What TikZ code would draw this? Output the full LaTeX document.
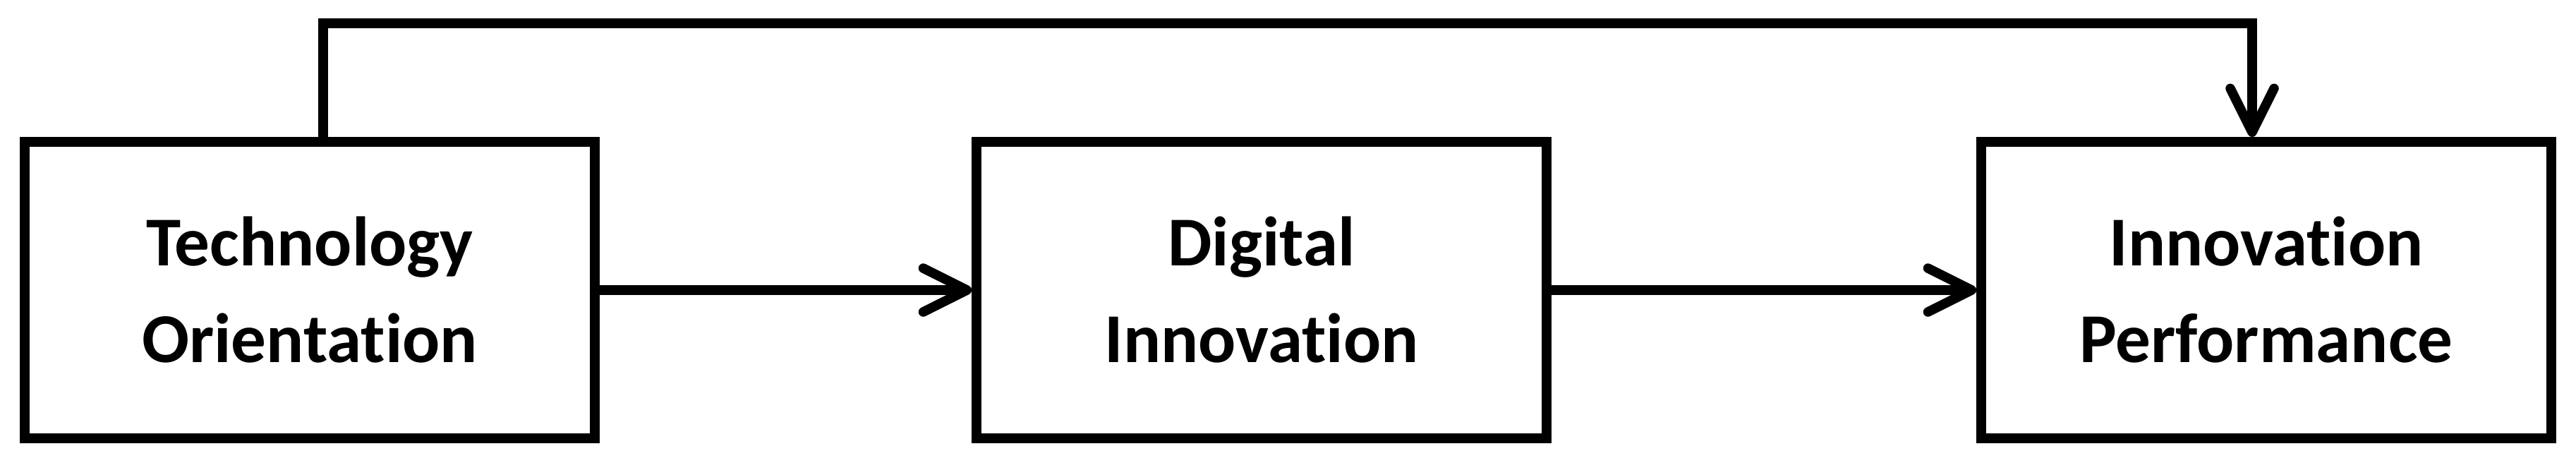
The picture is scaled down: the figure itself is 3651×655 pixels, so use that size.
\documentclass[tikz,border=0pt]{standalone}
\usepackage{fontspec}
\setmainfont{Carlito}[Ligatures={NoCommon}]
\usetikzlibrary{arrows.meta}
\tikzset{
  px/.style={x=0.25pt,y=-0.25pt},
  varbox/.style={draw=black, line width=3.375pt, rectangle, minimum width=202pt, minimum height=105.1pt,
    inner sep=0pt, align=center, font=\fontsize{24.8pt}{34.25pt}\selectfont\bfseries},
  link/.style={draw=black, line width=3.375pt, line join=miter,
    -{Straight Barb[length=15.5pt, width=15.5pt, line cap=round, line join=round]}},
}
\begin{document}
\begin{tikzpicture}[px]
\useasboundingbox (0,0) rectangle (3651,655);
\node[varbox] (to) at (439,411) {Technology\\Orientation};
\node[varbox] (di) at (1788,411) {Digital\\Innovation};
\node[varbox] (ip) at (3212,411) {Innovation\\Performance};
\coordinate (fbA) at (458,33);
\coordinate (fbB) at (3192,33);
\draw[link] (to) -- (di);
\draw[link] (di) -- (ip);
\draw[link] (to.north -| fbA) -- (fbA) -- (fbB) -- (ip.north -| fbB);
\end{tikzpicture}
\end{document}
